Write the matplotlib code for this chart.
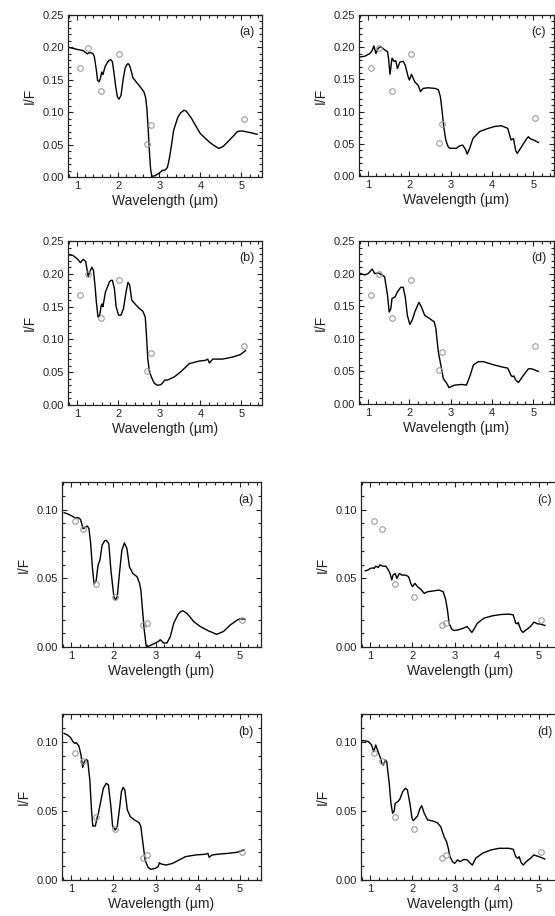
import matplotlib
matplotlib.use("Agg")
import matplotlib.pyplot as plt
from matplotlib.ticker import MultipleLocator, FormatStrFormatter

plt.rcParams["font.family"] = ["Liberation Sans", "DejaVu Sans"]

# observed points (same in the four upper and the four lower panels)
obs_wl_upper = [1.065, 1.26, 1.58, 2.03, 2.71, 2.80, 5.05]
obs_if_upper = [0.1675, 0.1995, 0.132, 0.190, 0.0515, 0.080, 0.0897]
obs_wl_lower = [1.09, 1.28, 1.59, 2.03, 2.71, 2.80, 5.04]
obs_if_lower = [0.0915, 0.0857, 0.0458, 0.0366, 0.0157, 0.0178, 0.0199]

# model spectra, upper block
wl_a1 = [0.8, 1.0, 1.15, 1.25, 1.3, 1.38, 1.42, 1.47, 1.50, 1.54, 1.57, 1.6, 1.63,
         1.68, 1.74, 1.78, 1.82, 1.86, 1.9, 1.94, 1.98, 2.02, 2.07, 2.12, 2.17, 2.21,
         2.24, 2.27, 2.3, 2.36, 2.45, 2.55, 2.63, 2.67, 2.70, 2.73, 2.76, 2.79, 2.82,
         2.9, 3.0, 3.07, 3.15, 3.2, 3.25, 3.3, 3.35, 3.45, 3.52, 3.6, 3.65, 3.7, 3.78,
         3.85, 4.0, 4.2, 4.3, 4.45, 4.55, 4.6, 4.8, 4.9, 4.97, 5.03, 5.1, 5.25, 5.38]
if_a1 = [0.200, 0.197, 0.195, 0.190, 0.192, 0.191, 0.186, 0.165, 0.149, 0.147, 0.153,
         0.162, 0.158, 0.170, 0.177, 0.180, 0.181, 0.178, 0.160, 0.140, 0.124, 0.120,
         0.126, 0.150, 0.168, 0.173, 0.175, 0.173, 0.168, 0.153, 0.146, 0.138, 0.131,
         0.122, 0.105, 0.075, 0.040, 0.012, 0.001, 0.002, 0.006, 0.010, 0.011, 0.015,
         0.030, 0.050, 0.072, 0.092, 0.099, 0.103, 0.102, 0.098, 0.091, 0.083, 0.067,
         0.055, 0.050, 0.044, 0.047, 0.050, 0.063, 0.070, 0.071, 0.071, 0.070, 0.068,
         0.066]

wl_b1 = [0.78, 0.90, 1.02, 1.08, 1.15, 1.21, 1.27, 1.31, 1.36, 1.40, 1.44, 1.47, 1.51,
         1.55, 1.59, 1.61, 1.63, 1.69, 1.79, 1.83, 1.86, 1.91, 1.95, 2.01, 2.07, 2.13,
         2.20, 2.24, 2.28, 2.33, 2.44, 2.52, 2.60, 2.66, 2.69, 2.72, 2.76, 2.82, 2.88,
         2.96, 3.04, 3.10, 3.13, 3.2, 3.37, 3.53, 3.73, 3.97, 4.12, 4.18, 4.22, 4.30,
         4.54, 4.78, 4.98, 5.10]
if_b1 = [0.229, 0.228, 0.222, 0.217, 0.222, 0.219, 0.196, 0.203, 0.210, 0.205, 0.180,
         0.157, 0.134, 0.137, 0.152, 0.154, 0.150, 0.172, 0.188, 0.190, 0.190, 0.177,
         0.150, 0.137, 0.137, 0.147, 0.175, 0.187, 0.183, 0.160, 0.152, 0.147, 0.143,
         0.134, 0.106, 0.071, 0.051, 0.041, 0.033, 0.030, 0.031, 0.035, 0.038, 0.038,
         0.043, 0.051, 0.063, 0.067, 0.068, 0.070, 0.064, 0.070, 0.070, 0.073, 0.077,
         0.083]

wl_c1 = [0.82, 0.92, 1.04, 1.10, 1.14, 1.19, 1.24, 1.31, 1.40, 1.47, 1.50, 1.53, 1.58,
         1.63, 1.67, 1.71, 1.77, 1.85, 1.90, 1.97, 2.0, 2.05, 2.13, 2.21, 2.27, 2.33,
         2.45, 2.62, 2.70, 2.75, 2.79, 2.83, 2.88, 2.94, 2.98, 3.14, 3.22, 3.29, 3.36,
         3.40, 3.46, 3.54, 3.70, 3.91, 4.07, 4.23, 4.38, 4.46, 4.49, 4.52, 4.57, 4.61,
         4.72, 4.84, 4.88, 4.92, 4.96, 5.04, 5.12]
if_c1 = [0.185, 0.186, 0.190, 0.195, 0.202, 0.190, 0.198, 0.201, 0.196, 0.193, 0.180,
         0.158, 0.183, 0.178, 0.179, 0.167, 0.177, 0.178, 0.172, 0.154, 0.149, 0.158,
         0.146, 0.141, 0.131, 0.136, 0.137, 0.136, 0.134, 0.123, 0.102, 0.077, 0.056,
         0.045, 0.043, 0.043, 0.047, 0.048, 0.041, 0.034, 0.043, 0.0585, 0.069, 0.074,
         0.077, 0.078, 0.074, 0.056, 0.057, 0.058, 0.040, 0.035, 0.046, 0.058, 0.061,
         0.058, 0.057, 0.055, 0.052]

wl_d1 = [0.82, 0.92, 1.0, 1.10, 1.16, 1.24, 1.34, 1.40, 1.47, 1.51, 1.55, 1.58, 1.65,
         1.71, 1.79, 1.85, 1.90, 1.95, 2.01, 2.07, 2.13, 2.23, 2.29, 2.37, 2.49, 2.60,
         2.64, 2.70, 2.76, 2.82, 2.90, 2.96, 3.02, 3.10, 3.26, 3.38, 3.46, 3.55, 3.67,
         3.79, 3.99, 4.23, 4.38, 4.46, 4.49, 4.53, 4.57, 4.64, 4.76, 4.88, 4.96, 5.12]
if_d1 = [0.200, 0.198, 0.200, 0.207, 0.200, 0.201, 0.198, 0.195, 0.167, 0.141, 0.146,
         0.162, 0.164, 0.172, 0.179, 0.179, 0.164, 0.136, 0.122, 0.129, 0.141, 0.156,
         0.149, 0.136, 0.131, 0.126, 0.116, 0.080, 0.060, 0.039, 0.032, 0.025, 0.027,
         0.029, 0.030, 0.029, 0.042, 0.060, 0.065, 0.065, 0.061, 0.057, 0.055, 0.044,
         0.042, 0.043, 0.037, 0.033, 0.044, 0.054, 0.054, 0.050]

# model spectra, lower block
wl_a2 = [0.83, 0.91, 1.02, 1.10, 1.16, 1.22, 1.28, 1.34, 1.38, 1.42, 1.46, 1.50, 1.54,
         1.59, 1.62, 1.64, 1.68, 1.73, 1.79, 1.83, 1.89, 1.94, 2.01, 2.05, 2.09, 2.15,
         2.20, 2.26, 2.32, 2.38, 2.46, 2.56, 2.62, 2.65, 2.69, 2.73, 2.78, 2.83, 2.95,
         3.07, 3.11, 3.19, 3.27, 3.35, 3.43, 3.54, 3.60, 3.65, 3.74, 3.90, 4.06, 4.25,
         4.45, 4.61, 4.76, 4.92, 5.00, 5.12]
if_a2 = [0.0976, 0.0969, 0.0952, 0.0937, 0.0942, 0.0928, 0.0860, 0.0872, 0.0880,
         0.0860, 0.0752, 0.0583, 0.0458, 0.0482, 0.0560, 0.0600, 0.0631, 0.0740,
         0.0772, 0.0776, 0.0752, 0.0559, 0.0366, 0.0342, 0.0366, 0.0559, 0.0704,
         0.0757, 0.0716, 0.0583, 0.0535, 0.0511, 0.0463, 0.0414, 0.0270, 0.0125,
         0.0000, 0.0005, 0.0022, 0.0041, 0.0053, 0.0029, 0.0029, 0.0077, 0.0173,
         0.0241, 0.0258, 0.0263, 0.0246, 0.0186, 0.0149, 0.0118, 0.0092, 0.0113,
         0.0157, 0.0193, 0.0205, 0.0202]

wl_b2 = [0.83, 0.91, 0.98, 1.04, 1.08, 1.12, 1.18, 1.23, 1.27, 1.31, 1.35, 1.39, 1.44,
         1.48, 1.51, 1.57, 1.61, 1.64, 1.69, 1.76, 1.83, 1.88, 1.94, 1.98, 2.04, 2.09,
         2.15, 2.19, 2.23, 2.27, 2.33, 2.40, 2.50, 2.61, 2.65, 2.70, 2.75, 2.82, 2.89,
         2.99, 3.06, 3.09, 3.13, 3.25, 3.40, 3.56, 3.71, 3.95, 4.18, 4.24, 4.27, 4.34,
         4.53, 4.73, 4.92, 5.10]
if_b2 = [0.1060, 0.1048, 0.1031, 0.1000, 0.0988, 0.0993, 0.0969, 0.0904, 0.0814,
         0.0855, 0.0872, 0.0863, 0.0723, 0.0506, 0.0390, 0.0390, 0.0446, 0.0477,
         0.0554, 0.0663, 0.0699, 0.0687, 0.0530, 0.0390, 0.0361, 0.0386, 0.0530,
         0.0639, 0.0670, 0.0651, 0.0506, 0.0458, 0.0434, 0.0414, 0.0386, 0.0265,
         0.0145, 0.0092, 0.0077, 0.0084, 0.0096, 0.0125, 0.0116, 0.0108, 0.0120,
         0.0145, 0.0169, 0.0181, 0.0186, 0.0193, 0.0164, 0.0181, 0.0188, 0.0193,
         0.0200, 0.0217]

wl_c2 = [0.88, 0.94, 1.0, 1.06, 1.09, 1.13, 1.19, 1.23, 1.29, 1.37, 1.43, 1.47, 1.51,
         1.54, 1.59, 1.63, 1.69, 1.75, 1.84, 1.91, 1.96, 2.0, 2.06, 2.12, 2.20, 2.28,
         2.36, 2.48, 2.63, 2.73, 2.79, 2.83, 2.87, 2.93, 2.99, 3.09, 3.21, 3.30, 3.36,
         3.41, 3.46, 3.54, 3.70, 3.90, 4.09, 4.29, 4.39, 4.45, 4.49, 4.51, 4.57, 4.62,
         4.70, 4.80, 4.88, 4.96, 5.04, 5.14]
if_c2 = [0.0554, 0.0559, 0.0571, 0.0576, 0.0571, 0.0588, 0.0578, 0.0598, 0.0588,
         0.0588, 0.0559, 0.0535, 0.0487, 0.0523, 0.0535, 0.0499, 0.0535, 0.0523,
         0.0523, 0.0511, 0.0463, 0.0439, 0.0463, 0.0439, 0.0419, 0.0390, 0.0402,
         0.0407, 0.0414, 0.0402, 0.0342, 0.0270, 0.0173, 0.0130, 0.0120, 0.0125,
         0.0137, 0.0149, 0.0125, 0.0106, 0.0130, 0.0173, 0.0210, 0.0227, 0.0236,
         0.0239, 0.0234, 0.0173, 0.0169, 0.0178, 0.0125, 0.0106, 0.0125, 0.0149,
         0.0181, 0.0169, 0.0166, 0.0157]

wl_d2 = [0.82, 0.90, 0.96, 1.03, 1.08, 1.13, 1.17, 1.23, 1.28, 1.31, 1.36, 1.39, 1.45,
         1.49, 1.53, 1.57, 1.59, 1.65, 1.70, 1.77, 1.83, 1.88, 1.94, 1.99, 2.02, 2.07,
         2.12, 2.18, 2.22, 2.28, 2.36, 2.48, 2.59, 2.67, 2.75, 2.81, 2.85, 2.89, 2.95,
         3.00, 3.07, 3.13, 3.22, 3.30, 3.36, 3.42, 3.50, 3.66, 3.86, 4.05, 4.29, 4.39,
         4.45, 4.50, 4.53, 4.58, 4.63, 4.70, 4.80, 4.88, 5.00, 5.14]
if_d2 = [0.1007, 0.1005, 0.1000, 0.0976, 0.0928, 0.0976, 0.0940, 0.0892, 0.0839,
         0.0831, 0.0867, 0.0855, 0.0699, 0.0554, 0.0482, 0.0501, 0.0554, 0.0566,
         0.0583, 0.0639, 0.0663, 0.0651, 0.0554, 0.0446, 0.0429, 0.0446, 0.0463,
         0.0518, 0.0537, 0.0482, 0.0434, 0.0427, 0.0414, 0.0386, 0.0313, 0.0277,
         0.0229, 0.0169, 0.0133, 0.0120, 0.0145, 0.0133, 0.0149, 0.0145, 0.0125,
         0.0108, 0.0157, 0.0193, 0.0217, 0.0229, 0.0229, 0.0222, 0.0169, 0.0157,
         0.0169, 0.0125, 0.0108, 0.0133, 0.0157, 0.0181, 0.0169, 0.0152]

panels = [
    # (left, top, right, bottom) in pixels, wl, if, label, upper block?
    ((68, 15, 262, 177), wl_a1, if_a1, "(a)", True),
    ((359, 15, 554, 176), wl_c1, if_c1, "(c)", True),
    ((68, 241, 262, 405), wl_b1, if_b1, "(b)", True),
    ((359, 241, 554, 404), wl_d1, if_d1, "(d)", True),
    ((62, 482, 261, 647), wl_a2, if_a2, "(a)", False),
    ((361, 482, 560, 647), wl_c2, if_c2, "(c)", False),
    ((62, 714, 261, 880), wl_b2, if_b2, "(b)", False),
    ((361, 714, 560, 880), wl_d2, if_d2, "(d)", False),
]

W, H = 555, 916
fig = plt.figure(figsize=(W / 100, H / 100), dpi=100)

for (l, t, r, b), wl, refl, label, upper in panels:
    ax = fig.add_axes([l / W, 1 - b / H, (r - l) / W, (b - t) / H])
    ax.plot(wl, refl, color="black", linewidth=1.0, zorder=2)
    if upper:
        ax.plot(obs_wl_upper, obs_if_upper, "o", mfc="none", mec="#9a9a9a",
                ms=4.0, mew=0.8, zorder=3)
        ax.set_ylim(0, 0.25)
    else:
        ax.plot(obs_wl_lower, obs_if_lower, "o", mfc="none", mec="#9a9a9a",
                ms=4.0, mew=0.8, zorder=3)
        ax.set_ylim(0, 0.12)
    ax.yaxis.set_major_locator(MultipleLocator(0.05))
    ax.yaxis.set_minor_locator(MultipleLocator(0.01))
    ax.yaxis.set_major_formatter(FormatStrFormatter("%.2f"))
    ax.set_xlim(0.78, 5.5)
    ax.xaxis.set_major_locator(MultipleLocator(1))
    ax.xaxis.set_minor_locator(MultipleLocator(0.2))
    ax.tick_params(which="both", direction="in", top=True, right=True,
                   labelsize=8, width=0.8, colors="#222222")
    ax.tick_params(which="major", length=3.5, pad=3)
    ax.tick_params(which="minor", length=2)
    for sp in ax.spines.values():
        sp.set_linewidth(0.9)
        sp.set_color("#222222")
    ax.set_xlabel("Wavelength (µm)", fontsize=10, labelpad=2, color="#222222")
    ax.set_ylabel("I/F", fontsize=10, labelpad=4, color="#222222")
    ax.text(0.96, 0.93, label, transform=ax.transAxes, ha="right", va="top",
            fontsize=9, color="#222222")

fig.savefig("out.png", dpi=100)
